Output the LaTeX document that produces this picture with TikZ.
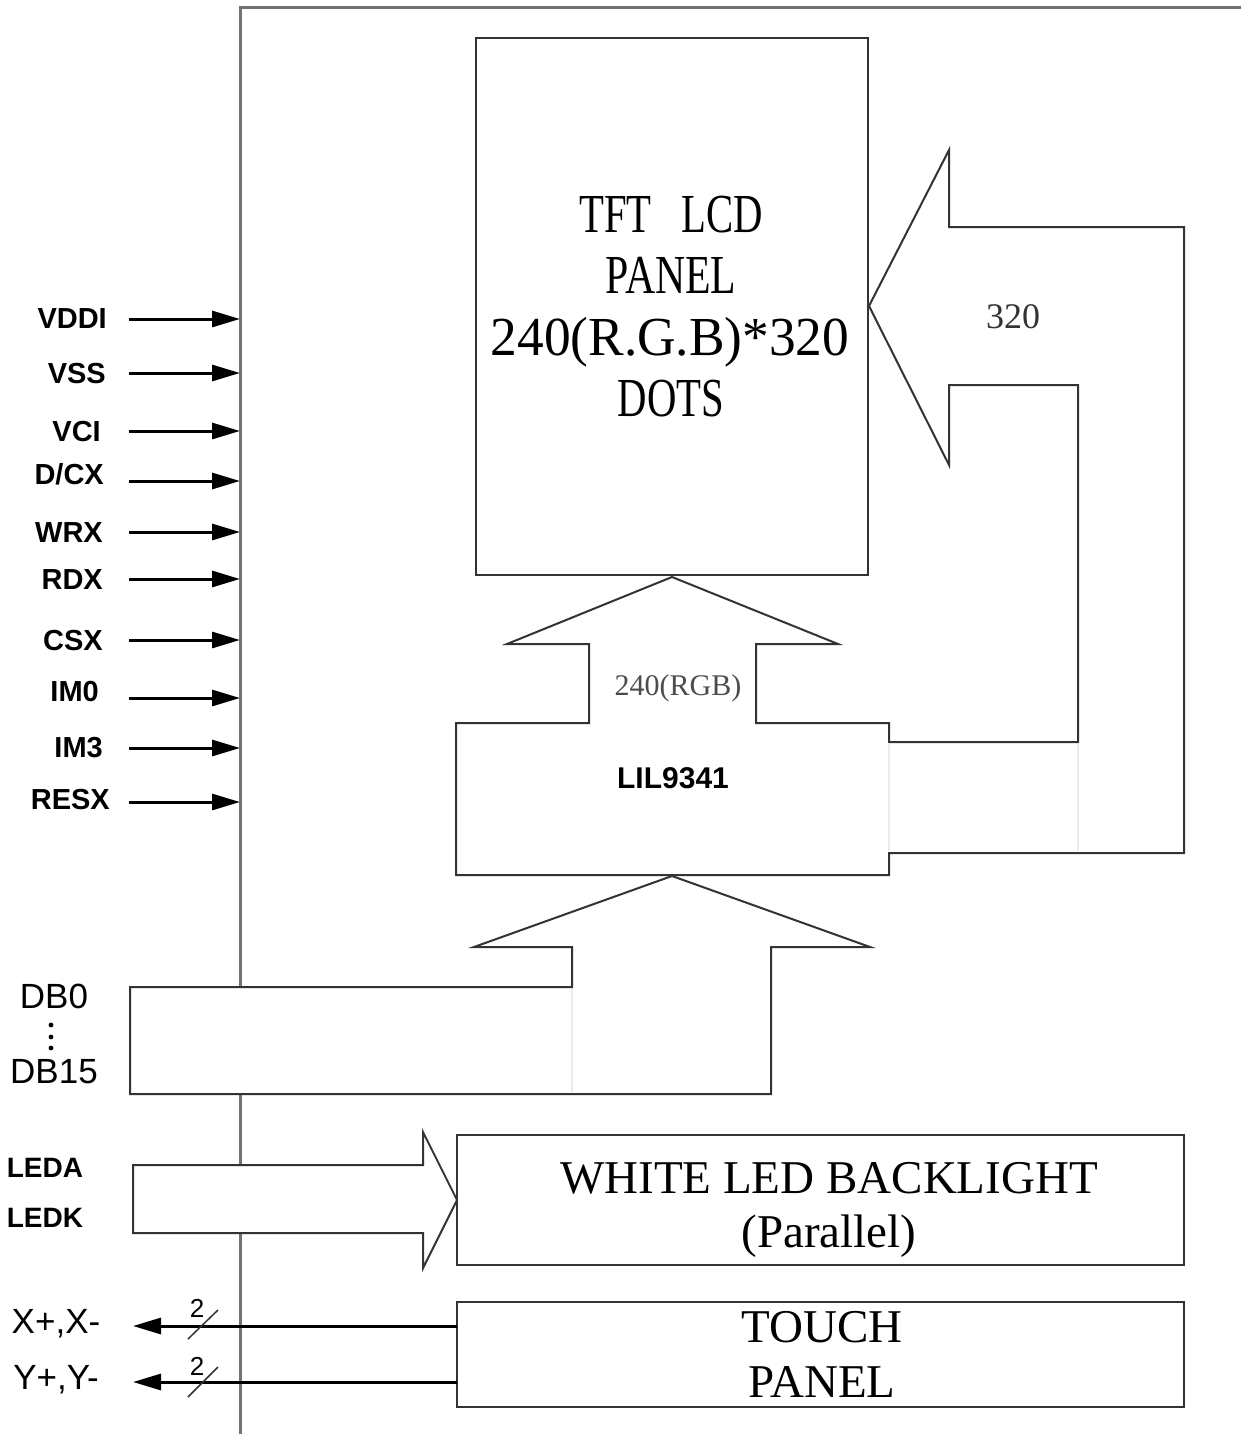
\documentclass[tikz,border=0pt]{standalone}
\usepackage{fontspec}
\setmainfont{Liberation Serif}
\setsansfont{Liberation Sans}
\usetikzlibrary{arrows.meta}
\begin{document}
\begin{tikzpicture}[x=1pt,y=-1pt,
  outl/.style={draw=black!80, line width=2pt, line join=miter},
  frame/.style={draw=black!55, line width=3pt},
  faint/.style={draw=black!8, line width=1.5pt},
  sig/.style={draw=black, line width=3pt, -{Triangle[length=28pt,width=16pt]}},
  slash/.style={draw=black!80, line width=1.5pt},
  pin/.style={font=\sffamily\bfseries\fontsize{29}{34}\selectfont, inner sep=0pt, anchor=base east},
  pinr/.style={font=\sffamily\fontsize{35}{40}\selectfont, inner sep=0pt, anchor=base},
  boxs/.style={draw=black!80, line width=2pt, inner sep=0pt},
  ser/.style={font=\rmfamily\fontsize{47}{55}\selectfont, inner sep=0pt, anchor=base},
  pan/.style={font=\rmfamily\fontsize{55}{61}\selectfont, inner sep=0pt, anchor=base},
]
\useasboundingbox (0,0) rectangle (1240,1434);
\fill[white] (0,0) rectangle (1240,1434);

% outer frame
\draw[frame] (240,1440) -- (240,8) -- (1245,8);

% TFT LCD panel
\node[boxs, minimum width=392pt, minimum height=537pt] (panel) at (672,306.5) {};
\node[pan] (p1) at (671,232) {\scalebox{0.74}[1]{TFT\hspace{40pt}LCD}};
\node[pan] (p2) at (671,293) {\scalebox{0.76}[1]{PANEL}};
\node[pan] (p3) at (670,355) {\scalebox{0.97}[1]{240(R.G.B)*320}};
\node[pan] (p4) at (671,416) {\scalebox{0.74}[1]{DOTS}};

% LIL9341 block with its two output arrows
\draw[outl] (456,723) -- (589,723) -- (589,644) -- (507,644) -- (672,577)
  -- (838,644) -- (756,644) -- (756,723) -- (889,723) -- (889,742)
  -- (1078,742) -- (1078,385) -- (949,385) -- (949,465) -- (869,306)
  -- (949,150) -- (949,227) -- (1184,227) -- (1184,853) -- (889,853)
  -- (889,875) -- (456,875) -- cycle;
\draw[faint] (889,744) -- (889,851);
\draw[faint] (1078,744) -- (1078,851);
\node[font=\rmfamily\fontsize{30}{34}\selectfont, text=black!70, inner sep=0pt, anchor=base] (rgb) at (678,695) {240(RGB)};
\node[font=\rmfamily\fontsize{36}{40}\selectfont, text=black!80, inner sep=0pt, anchor=base] (n320) at (1013,328) {320};
\node[font=\sffamily\bfseries\fontsize{30}{34}\selectfont, inner sep=0pt, anchor=base] (lil) at (673,788) {LIL9341};

% data bus arrow
\draw[outl, fill=white] (130,987) -- (572,987) -- (572,947) -- (474,947) -- (672,876)
  -- (870,947) -- (771,947) -- (771,1094) -- (130,1094) -- cycle;
\draw[faint] (572,989) -- (572,1092);
\node[pinr] (db0) at (54,1008) {DB0};
\node[pinr] (db15) at (54,1083) {DB15};
\fill (51,1025) circle (2.4);
\fill (51,1037) circle (2.4);
\fill (51,1048) circle (2.4);

% LED arrow
\draw[outl, fill=white] (133,1165) -- (423,1165) -- (423,1132) -- (457,1200)
  -- (423,1268) -- (423,1233) -- (133,1233) -- cycle;
\node[font=\sffamily\bfseries\fontsize{28}{32}\selectfont, inner sep=0pt, anchor=base] (leda) at (45,1177) {LEDA};
\node[font=\sffamily\bfseries\fontsize{28}{32}\selectfont, inner sep=0pt, anchor=base] (ledk) at (45,1227) {LEDK};

% backlight
\node[boxs, minimum width=727pt, minimum height=130pt] (bl) at (820.5,1200) {};
\node[ser] (bl1) at (829,1193) {WHITE LED BACKLIGHT};
\node[ser] (bl2) at (829,1247) {(Parallel)};

% touch panel
\node[boxs, minimum width=727pt, minimum height=105pt] (tp) at (820.5,1354.5) {};
\node[ser] (tp1) at (822,1342) {TOUCH};
\node[ser] (tp2) at (822,1397) {PANEL};

% touch outputs
\coordinate (xs) at (457,1326);
\coordinate (xe) at (133,1326);
\coordinate (ys) at (457,1382);
\coordinate (ye) at (133,1382);
\draw[sig] (xs) -- (xe);
\draw[sig] (ys) -- (ye);
\draw[slash] (188,1339) -- (218,1310);
\draw[slash] (188,1397) -- (218,1367);
\node[font=\sffamily\fontsize{26}{30}\selectfont, inner sep=0pt, anchor=base] (n2a) at (197,1317) {2};
\node[font=\sffamily\fontsize{26}{30}\selectfont, inner sep=0pt, anchor=base] (n2b) at (197,1375) {2};
\node[pinr, anchor=base] (xlab) at (56,1333) {X+,X-};
\node[pinr, anchor=base] (ylab) at (56,1389) {Y+,Y-};

% left input signals
\node[pin] (vddi) at (107,328) {VDDI};
\node[pin] (vss) at (106,383) {VSS};
\node[pin] (vci) at (101,441) {VCI};
\node[pin] (dcx) at (104,484) {D/CX};
\node[pin] (wrx) at (103,542) {WRX};
\node[pin] (rdx) at (103,589) {RDX};
\node[pin] (csx) at (103,650) {CSX};
\node[pin] (imz) at (99,701) {IM0};
\node[pin] (imt) at (103,757) {IM3};
\node[pin] (resx) at (110,809) {RESX};
\coordinate (vddiA) at (129,319); \coordinate (vddiB) at (240,319);
\coordinate (vssA) at (129,373);  \coordinate (vssB) at (240,373);
\coordinate (vciA) at (129,431);  \coordinate (vciB) at (240,431);
\coordinate (dcxA) at (129,481);  \coordinate (dcxB) at (240,481);
\coordinate (wrxA) at (129,532);  \coordinate (wrxB) at (240,532);
\coordinate (rdxA) at (129,579);  \coordinate (rdxB) at (240,579);
\coordinate (csxA) at (129,640);  \coordinate (csxB) at (240,640);
\coordinate (imzA) at (129,698);  \coordinate (imzB) at (240,698);
\coordinate (imtA) at (129,748);  \coordinate (imtB) at (240,748);
\coordinate (resxA) at (129,802); \coordinate (resxB) at (240,802);
\foreach \s in {vddi,vss,vci,dcx,wrx,rdx,csx,imz,imt,resx}
  \draw[sig] (\s A) -- (\s B);
\end{tikzpicture}
\end{document}
